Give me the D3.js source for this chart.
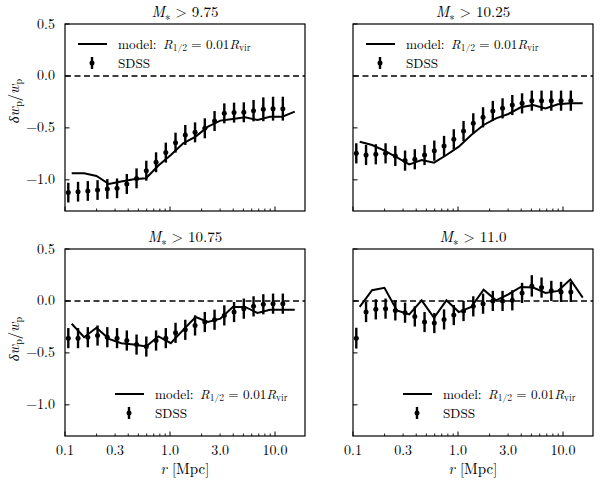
<!DOCTYPE html>
<html><head><meta charset="utf-8">
<script src="https://cdn.jsdelivr.net/npm/d3@7"></script>
<style>body{margin:0;background:#fff}svg{display:block}</style>
</head><body><svg id="c" width="600" height="483"></svg>
<script>
// ---- data ----
const rData = [0.1075,0.1331,0.1649,0.2042,0.2529,0.3131,0.3878,0.4802,0.5947,0.7365,0.912,1.129,1.398,1.732,2.145,2.656,3.289,4.074,5.045,6.247,7.737,9.58,11.87];
const rModel = [0.1158,0.152,0.1994,0.2617,0.3434,0.4506,0.5913,0.7759,1.018,1.336,1.753,2.300,3.018,3.961,5.197,6.820,8.949,11.74,15.41];
const titles = ["9.75","10.25","10.75","11.0"];
const sdss1 = [-1.123,-1.114,-1.107,-1.098,-1.088,-1.082,-1.040,-0.986,-0.912,-0.831,-0.738,-0.642,-0.568,-0.543,-0.504,-0.434,-0.360,-0.353,-0.350,-0.334,-0.321,-0.315,-0.315];
const err1 = [0.095,0.095,0.095,0.095,0.095,0.095,0.096,0.096,0.096,0.096,0.096,0.096,0.096,0.096,0.096,0.096,0.096,0.096,0.096,0.103,0.115,0.115,0.115];
const model1 = [-0.937,-0.937,-0.963,-1.040,-1.017,-0.995,-0.985,-0.863,-0.761,-0.648,-0.584,-0.488,-0.430,-0.414,-0.398,-0.424,-0.392,-0.392,-0.344];
const sdss2 = [-0.745,-0.761,-0.754,-0.745,-0.770,-0.815,-0.802,-0.761,-0.719,-0.674,-0.610,-0.530,-0.456,-0.398,-0.337,-0.312,-0.280,-0.264,-0.238,-0.238,-0.238,-0.238,-0.238];
const err2 = [0.097,0.097,0.097,0.097,0.097,0.097,0.097,0.097,0.097,0.097,0.097,0.097,0.097,0.097,0.097,0.097,0.097,0.097,0.097,0.097,0.097,0.097,0.097];
const model2 = [-0.633,-0.665,-0.719,-0.783,-0.851,-0.809,-0.835,-0.761,-0.681,-0.568,-0.472,-0.408,-0.366,-0.302,-0.280,-0.312,-0.273,-0.264,-0.264];
const sdss3 = [-0.358,-0.358,-0.349,-0.333,-0.349,-0.358,-0.381,-0.420,-0.439,-0.381,-0.358,-0.307,-0.278,-0.236,-0.203,-0.181,-0.139,-0.107,-0.074,-0.052,-0.032,-0.026,-0.026];
const err3 = [0.097,0.097,0.097,0.097,0.097,0.097,0.097,0.097,0.097,0.097,0.097,0.097,0.097,0.097,0.097,0.097,0.097,0.097,0.097,0.097,0.097,0.097,0.097];
const model3 = [-0.220,-0.349,-0.258,-0.365,-0.407,-0.420,-0.439,-0.342,-0.407,-0.278,-0.155,-0.203,-0.171,-0.058,-0.058,-0.116,-0.084,-0.084,-0.084];
const sdss4 = [-0.358,-0.107,-0.081,-0.074,-0.091,-0.113,-0.149,-0.203,-0.213,-0.178,-0.136,-0.097,-0.052,-0.026,0.000,0.000,0.006,0.077,0.145,0.129,0.097,0.087,0.087];
const err4 = [0.100,0.097,0.097,0.097,0.097,0.097,0.097,0.097,0.097,0.097,0.097,0.097,0.097,0.097,0.097,0.097,0.097,0.097,0.103,0.097,0.097,0.097,0.097];
const model4 = [-0.058,0.103,0.126,-0.091,-0.129,0.006,-0.162,0.006,-0.107,-0.058,0.109,0.006,0.064,0.135,0.129,0.077,0.097,0.206,0.032];
const xTicks = [0.1,0.3,1.0,3.0,10.0];
const yTicks = [0.5,0.0,-0.5,-1.0];

const panels = [
  {x0:65,y0:24,sdss:sdss1,err:err1,model:model1,title:titles[0],legTop:true,left:true,bottom:false,ylc:77},
  {x0:353,y0:24,sdss:sdss2,err:err2,model:model2,title:titles[1],legTop:true,left:false,bottom:false},
  {x0:65,y0:249,sdss:sdss3,err:err3,model:model3,title:titles[2],legTop:false,left:true,bottom:true,ylc:90},
  {x0:353,y0:249,sdss:sdss4,err:err4,model:model4,title:titles[3],legTop:false,left:false,bottom:true}
];
const W=240,H=187;
const FF='"Latin Modern Roman"';
const svg=d3.select("#c");
const x=d3.scaleLog().domain([0.1,19.3]).range([0,W]);
const y=d3.scaleLinear().domain([-1.3,0.5]).range([H,0]);
const fmt=d3.format(".1f");
const minus=s=>s.replace("-","\u2212");
const T=(g)=>g.append("text").style("font-family",FF);

function legendText(g,tx,ty){
  const t=T(g).attr("x",tx).attr("y",ty).attr("font-size",13.2);
  t.append("tspan").text("model:\u2002");
  t.append("tspan").attr("font-style","italic").text("R");
  t.append("tspan").attr("font-size",9.5).attr("dy",2.5).text("1/2");
  t.append("tspan").attr("dy",-2.5).text(" = 0.01");
  t.append("tspan").attr("font-style","italic").text("R");
  t.append("tspan").attr("font-size",9.5).attr("dy",2.5).text("vir");
}

panels.forEach(p=>{
  const g=svg.append("g").attr("transform",`translate(${p.x0},${p.y0})`);
  g.append("line").attr("x1",0).attr("x2",W).attr("y1",y(0)).attr("y2",y(0))
    .attr("stroke","#000").attr("stroke-width",1.5).attr("stroke-dasharray","6,3.5");
  const line=d3.line().x((d,i)=>x(rModel[i])).y(d=>y(d));
  g.append("path").datum(p.model).attr("d",line).attr("fill","none").attr("stroke","#000").attr("stroke-width",2).attr("stroke-linejoin","miter");
  g.selectAll("line.eb").data(p.sdss).enter().append("line")
    .attr("x1",(d,i)=>x(rData[i])).attr("x2",(d,i)=>x(rData[i]))
    .attr("y1",(d,i)=>y(d+p.err[i])).attr("y2",(d,i)=>y(d-p.err[i]))
    .attr("stroke","#000").attr("stroke-width",2.4);
  g.selectAll("circle.pt").data(p.sdss).enter().append("circle")
    .attr("cx",(d,i)=>x(rData[i])).attr("cy",d=>y(d)).attr("r",2.5).attr("fill","#000");
  const minor=[];
  [0.1,1,10].forEach(dec=>{for(let k=2;k<=9;k++){const v=dec*k; if(v<19.3) minor.push(v);}});
  g.selectAll("line.mi").data(minor).enter().append("line")
    .attr("x1",d=>x(d)).attr("x2",d=>x(d)).attr("y1",H).attr("y2",H-2.5).attr("stroke","#000").attr("stroke-width",0.9);
  g.selectAll("line.ma").data([0.1,1,10]).enter().append("line")
    .attr("x1",d=>x(d)).attr("x2",d=>x(d)).attr("y1",H).attr("y2",H-4.5).attr("stroke","#000").attr("stroke-width",1);
  g.selectAll("line.yt").data(yTicks).enter().append("line")
    .attr("x1",0).attr("x2",4.5).attr("y1",d=>y(d)).attr("y2",d=>y(d)).attr("stroke","#000").attr("stroke-width",1);
  g.append("rect").attr("x",0).attr("y",0).attr("width",W).attr("height",H).attr("fill","none").attr("stroke","#000").attr("stroke-width",1.2);
  if(p.left){
    yTicks.forEach(d=>{
      T(g).attr("x",-10).attr("y",y(d)+4.5).attr("text-anchor","end").attr("font-size",14).text(minus(fmt(d)));
    });
    const yl=T(g).attr("transform",`translate(-46,${p.ylc}) rotate(-90)`).attr("text-anchor","middle").attr("font-size",14.5);
    yl.append("tspan").attr("font-style","italic").text("\u03b4w");
    yl.append("tspan").attr("font-size",10).attr("dy",2.5).text("p");
    yl.append("tspan").attr("dy",-2.5).text("/");
    yl.append("tspan").attr("font-style","italic").text("w");
    yl.append("tspan").attr("font-size",10).attr("dy",2.5).text("p");
  }
  if(p.bottom){
    xTicks.forEach(d=>{
      T(g).attr("x",x(d)).attr("y",H+19).attr("text-anchor","middle").attr("font-size",14).text(fmt(d));
    });
    const xl=T(g).attr("x",W/2).attr("y",H+38).attr("text-anchor","middle").attr("font-size",15);
    xl.append("tspan").attr("font-style","italic").text("r");
    xl.append("tspan").text(" [Mpc]");
  }
  const t=T(g).attr("x",W/2).attr("y",-7).attr("text-anchor","middle").attr("font-size",15);
  t.append("tspan").attr("font-style","italic").text("M");
  t.append("tspan").attr("font-size",10.5).attr("dy",3).text("\u2217");
  t.append("tspan").attr("dy",-3).text(" > "+p.title);
  const lx = p.legTop?13:50, ly = p.legTop?20:145;
  g.append("line").attr("x1",lx).attr("x2",lx+29).attr("y1",ly).attr("y2",ly).attr("stroke","#000").attr("stroke-width",2);
  legendText(g,lx+40,ly+4.5);
  g.append("line").attr("x1",lx+14).attr("x2",lx+14).attr("y1",ly+13).attr("y2",ly+25).attr("stroke","#000").attr("stroke-width",2.4);
  g.append("circle").attr("cx",lx+14).attr("cy",ly+19).attr("r",2.5).attr("fill","#000");
  T(g).attr("x",lx+40).attr("y",ly+23.5).attr("font-size",13.2).text("SDSS");
});
</script></body></html>
